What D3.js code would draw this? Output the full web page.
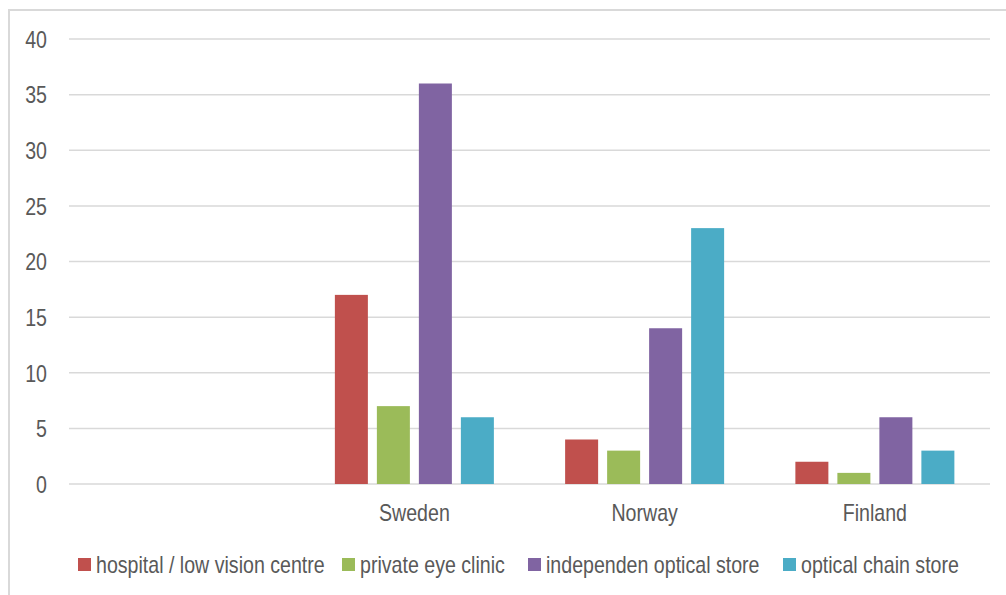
<!DOCTYPE html>
<html>
<head>
<meta charset="utf-8">
<script src="https://cdn.jsdelivr.net/npm/d3@7"></script>
<style>
  html, body { margin: 0; padding: 0; background: #fff; }
  svg { display: block; }
  text { font-family: "Liberation Sans", Arial, sans-serif; fill: #595959; }
</style>
</head>
<body>
<svg id="chart" width="1006" height="595"></svg>
<script>
// Categories (the first slot is an unlabeled, empty category)
const categories = ["", "Sweden", "Norway", "Finland"];
const seriesNames = ["hospital / low vision centre", "private eye clinic", "independen optical store", "optical chain store"];
const hospital = [null, 17, 4, 2];
const privateClinic = [null, 7, 3, 1];
const independent = [null, 36, 14, 6];
const chain = [null, 6, 23, 3];
const yTicks = [0, 5, 10, 15, 20, 25, 30, 35, 40];
const colors = ["#C0504D", "#9BBB59", "#8064A2", "#4BACC6"];

const seriesValues = [hospital, privateClinic, independent, chain];

// condensed look for all labels
const narrow = "scale(0.852,1)";
const fontSize = 23;

const svg = d3.select("#chart");

// outer chart frame
svg.append("rect")
  .attr("x", 9).attr("y", 10)
  .attr("width", 1010).attr("height", 600)
  .attr("fill", "none").attr("stroke", "#d9d9d9").attr("stroke-width", 2);

const plot = { left: 69, right: 990, top: 39, bottom: 484 };

const x0 = d3.scaleBand().domain(categories).range([plot.left, plot.right]).paddingInner(0).paddingOuter(0);
const groupPad = (x0.bandwidth() - 159) / 2;
const x1 = d3.scaleBand().domain(seriesNames)
  .range([groupPad, x0.bandwidth() - groupPad])
  .paddingInner(9 / 42).paddingOuter(0);
const y = d3.scaleLinear().domain([0, 40]).range([plot.bottom, plot.top]);

// gridlines
svg.append("g").selectAll("line").data(yTicks).join("line")
  .attr("x1", plot.left).attr("x2", plot.right)
  .attr("y1", d => y(d)).attr("y2", d => y(d))
  .attr("stroke", "#d9d9d9").attr("stroke-width", 1.5);

// y tick labels
const yAxis = d3.axisLeft(y).tickValues(yTicks).tickSize(0).tickPadding(0);
const gy = svg.append("g").attr("transform", "translate(47,0)").call(yAxis);
gy.select(".domain").remove();
gy.selectAll("text")
  .attr("x", 0)
  .attr("font-size", fontSize)
  .attr("dy", "0.36em")
  .attr("transform", narrow);

// bars
const groups = svg.append("g").selectAll("g").data(categories).join("g")
  .attr("transform", d => `translate(${x0(d)},0)`);
groups.selectAll("rect")
  .data((c, ci) => seriesNames.map((s, si) => ({ s, si, v: seriesValues[si][ci] })).filter(d => d.v != null))
  .join("rect")
  .attr("x", d => x1(d.s))
  .attr("width", x1.bandwidth())
  .attr("y", d => y(d.v))
  .attr("height", d => y(0) - y(d.v))
  .attr("fill", d => colors[d.si]);

// category labels
const xAxis = d3.axisBottom(x0).tickSize(0).tickPadding(0);
const gx = svg.append("g").attr("transform", `translate(0,${plot.bottom})`).call(xAxis);
gx.select(".domain").remove();
gx.selectAll("text")
  .attr("font-size", fontSize)
  .attr("y", 37.5)
  .attr("dy", 0)
  .attr("transform", narrow);

// legend
const legendX = [78, 342, 528, 783];
const legend = svg.append("g").selectAll("g").data(seriesNames).join("g")
  .attr("transform", (d, i) => `translate(${legendX[i]},558)`);
legend.append("rect")
  .attr("width", 13).attr("height", 13)
  .attr("fill", (d, i) => colors[i]);
legend.append("text")
  .attr("transform", `translate(18,14.7) ${narrow}`)
  .attr("font-size", fontSize)
  .text(d => d);
</script>
</body>
</html>
